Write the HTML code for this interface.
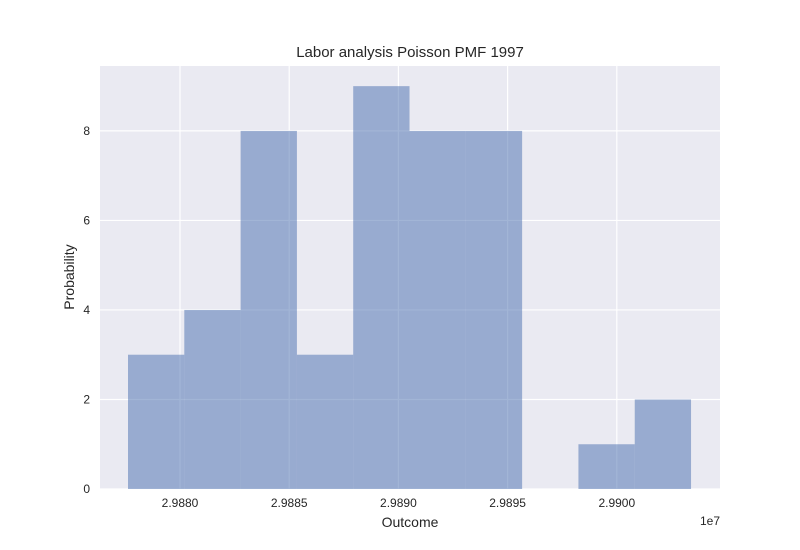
<!DOCTYPE html>
<html><head><meta charset="utf-8"><style>
body{margin:0;background:#fff;}
svg{display:block;font-family:"Liberation Sans","DejaVu Sans",sans-serif;}
</style></head><body>
<svg id="chart" width="800" height="550">
<rect x="0" y="0" width="800" height="550" fill="#ffffff"/>
<rect x="100" y="66" width="620" height="423" fill="#eaeaf2"/>
<g id="grid"></g><g id="bars"></g><g id="ticks"></g>
<text x="410" y="57" text-anchor="middle" font-size="15" fill="#262626">Labor analysis Poisson PMF 1997</text>
<text x="410" y="527" text-anchor="middle" font-size="14" fill="#262626">Outcome</text>
<text x="74" y="277" text-anchor="middle" font-size="14" fill="#262626" transform="rotate(-90 74 277)">Probability</text>
<text x="720" y="525" text-anchor="end" font-size="12" fill="#262626">1e7</text>
</svg>
<script>
const binStart = 29877619;
const binWidth = 2578;
const counts = [3,4,8,3,9,8,8,0,1,2];
const xTicks = [29880000,29885000,29890000,29895000,29900000];
const xTickLabels = ["2.9880","2.9885","2.9890","2.9895","2.9900"];
const yTicks = [0,2,4,6,8];
const NS="http://www.w3.org/2000/svg";
const x0=100,x1=720,y0=489,y1=66;
const xMin=29876337,xMax=29904725,yMin=0,yMax=9.45;
function sx(v){return x0+(v-xMin)/(xMax-xMin)*(x1-x0);}
function sy(v){return y0-(v-yMin)/(yMax-yMin)*(y0-y1);}
function mk(tag,attrs,parent){const e=document.createElementNS(NS,tag);for(const k in attrs)e.setAttribute(k,attrs[k]);document.getElementById(parent).appendChild(e);return e;}
xTicks.forEach((t,i)=>{
  const g=mk('line',{x1:sx(t),x2:sx(t),y1:y1,y2:y0,stroke:'#fff','stroke-width':1.2},'grid');
  
  
  const l=mk('text',{x:sx(t),y:y0+18,'text-anchor':'middle','font-size':12,fill:'#262626'},'ticks');
  l.textContent=xTickLabels[i];
  
  
});
yTicks.forEach(t=>{
  const g=mk('line',{x1:x0,x2:x1,y1:sy(t),y2:sy(t),stroke:'#fff','stroke-width':1.2},'grid');
  
  
  const l=mk('text',{x:x0-10,y:sy(t)+4,'text-anchor':'end','font-size':12,fill:'#262626'},'ticks');
  l.textContent=String(t);
  
  
});
counts.forEach((c,i)=>{
  if(c<=0)return;
  const a=binStart+i*binWidth,b=a+binWidth;
  const r=mk('rect',{x:sx(a),y:sy(c),width:sx(b)-sx(a),height:sy(0)-sy(c),fill:'#4c72b0','fill-opacity':0.52},'bars');
  
  
});
</script>
</body></html>
